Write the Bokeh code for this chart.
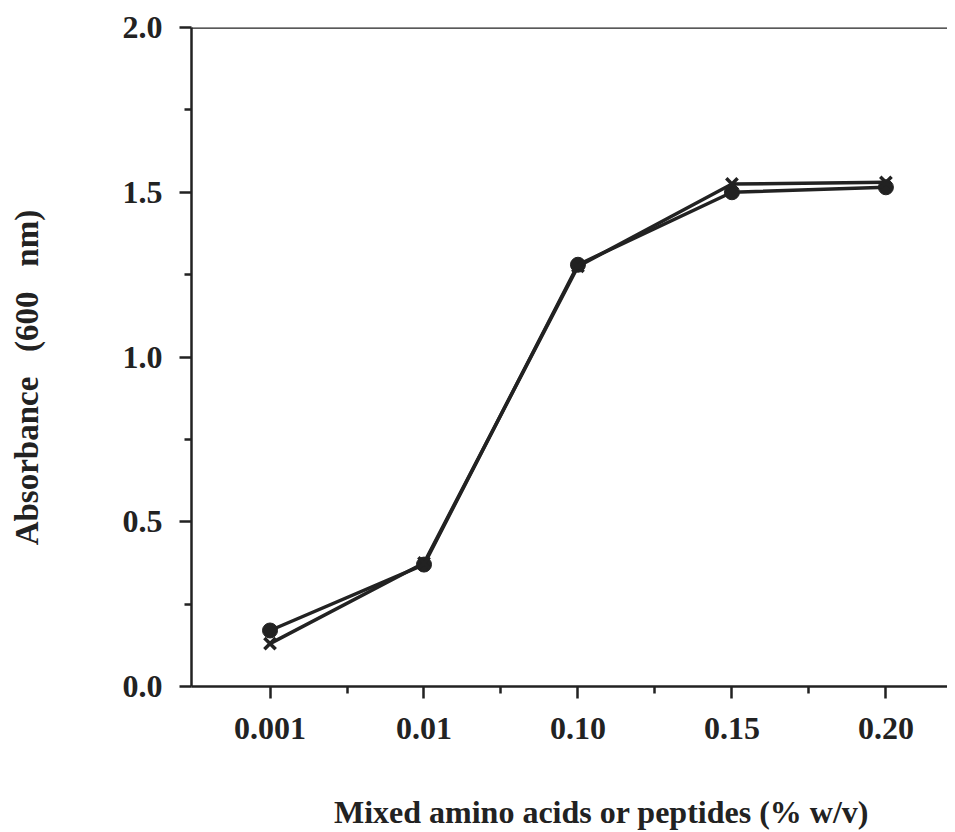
from bokeh.plotting import figure
from bokeh.models import FixedTicker, Range1d, Span
from bokeh.embed import file_html
from bokeh.resources import INLINE

categories = ["0.001", "0.01", "0.10", "0.15", "0.20"]
circle_series = [0.17, 0.37, 1.28, 1.50, 1.515]
cross_series = [0.13, 0.375, 1.275, 1.525, 1.53]
y_ticks = [0.0, 0.5, 1.0, 1.5, 2.0]
y_tick_labels = ["0.0", "0.5", "1.0", "1.5", "2.0"]
x_title = "Mixed amino acids or peptides (% w/v)"
y_title = "Absorbance\u00a0\u00a0\u00a0(600\u00a0\u00a0\u00a0nm)"

NB = "\u00a0"
xpos = list(range(1, len(categories) + 1))

H = 832
LEFT = 191
BOTTOM_Y = 688
p = figure(width=947, height=H, output_backend="svg", toolbar_location=None,
           x_range=Range1d(0.49, 5.40), y_range=Range1d(0.0, 2.0),
           min_border_left=LEFT, min_border_right=0, min_border_top=27,
           min_border_bottom=H - BOTTOM_Y)
p.outline_line_color = None
p.grid.grid_line_color = None
p.background_fill_color = "white"
p.border_fill_color = "white"

ink = "#222222"
FONT = "Liberation Serif"

p.xaxis.ticker = FixedTicker(ticks=xpos, minor_ticks=[1.5, 2.5, 3.5, 4.5])
p.xaxis.major_label_overrides = {i: c for i, c in zip(xpos, categories)}
p.yaxis.ticker = FixedTicker(ticks=y_ticks, minor_ticks=[0.25, 0.75, 1.25, 1.75])
p.yaxis.major_label_overrides = {t: l for t, l in zip(y_ticks, y_tick_labels)}

for ax in (p.xaxis[0], p.yaxis[0]):
    ax.axis_line_color = ink
    ax.axis_line_width = 2.5
    ax.major_tick_line_color = ink
    ax.major_tick_line_width = 2.5
    ax.minor_tick_line_color = ink
    ax.minor_tick_line_width = 2.5
    ax.major_tick_in = 0
    ax.major_tick_out = 12
    ax.minor_tick_in = 0
    ax.minor_tick_out = 7
    ax.major_label_text_font = FONT
    ax.major_label_text_font_style = "bold"
    ax.major_label_text_font_size = "32px"
    ax.major_label_text_color = ink
    ax.axis_label_text_font = FONT
    ax.axis_label_text_font_style = "bold"
    ax.axis_label_text_color = ink

p.xaxis.major_label_standoff = 19
p.yaxis.major_label_standoff = 17

# leading / trailing no-break spaces nudge the centred titles as in the original
p.xaxis.axis_label = NB * 8 + x_title
p.xaxis.axis_label_text_font_size = "32px"
p.xaxis.axis_label_standoff = 52
p.yaxis.axis_label = y_title + NB * 5
p.yaxis.axis_label_text_font_size = "33px"
p.yaxis.axis_label_standoff = 75

top = Span(location=2.0, dimension="width", line_color=ink, line_width=2.5)
p.add_layout(top)

p.line(xpos, circle_series, line_color=ink, line_width=3.5)
p.scatter(xpos, circle_series, marker="circle", size=15, fill_color=ink, line_color=ink)
p.line(xpos, cross_series, line_color=ink, line_width=3.5)
p.scatter(xpos, cross_series, marker="x", size=16, line_color=ink, line_width=3.5)

open("out.html", "w").write(file_html(p, INLINE))
